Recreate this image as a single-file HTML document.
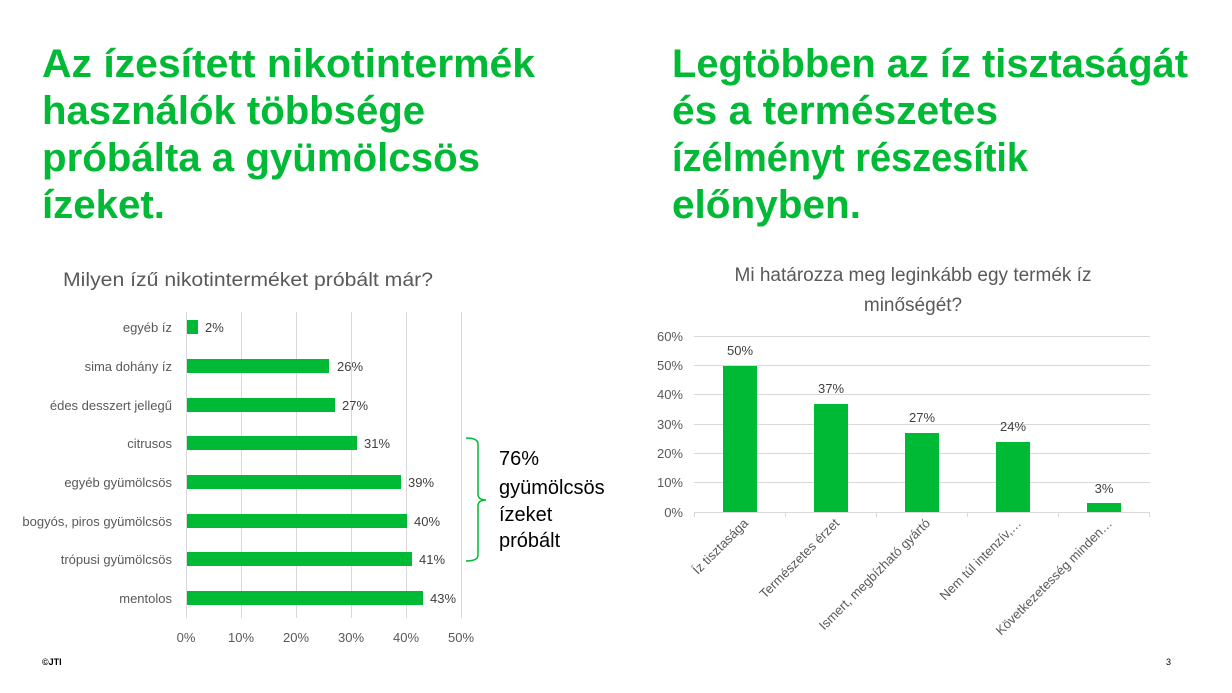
<!DOCTYPE html>
<html><head><meta charset="utf-8"><style>
html,body{margin:0;padding:0;background:#fff;}
svg{display:block;font-family:"Liberation Sans",sans-serif;}
</style></head><body>
<svg width="1232" height="693" viewBox="0 0 1232 693">
<g fill="#00b934" font-weight="bold" font-size="40">
<text x="42" y="77" textLength="493" lengthAdjust="spacingAndGlyphs">Az ízesített nikotintermék</text>
<text x="42" y="124" textLength="383" lengthAdjust="spacingAndGlyphs">használók többsége</text>
<text x="42" y="171" textLength="438" lengthAdjust="spacingAndGlyphs">próbálta a gyümölcsös</text>
<text x="42" y="218" textLength="123" lengthAdjust="spacingAndGlyphs">ízeket.</text>
<text x="672" y="77" textLength="516" lengthAdjust="spacingAndGlyphs">Legtöbben az íz tisztaságát</text>
<text x="672" y="124" textLength="326" lengthAdjust="spacingAndGlyphs">és a természetes</text>
<text x="672" y="171" textLength="356" lengthAdjust="spacingAndGlyphs">ízélményt részesítik</text>
<text x="672" y="218" textLength="189" lengthAdjust="spacingAndGlyphs">előnyben.</text>
</g>
<!-- left chart -->
<text x="63" y="286" font-size="19" fill="#595959" textLength="370" lengthAdjust="spacingAndGlyphs">Milyen ízű nikotinterméket próbált már?</text>
<g stroke="#d9d9d9" stroke-width="1">
<line x1="186.5" y1="312" x2="186.5" y2="618"/>
<line x1="241.5" y1="312" x2="241.5" y2="618"/>
<line x1="296.5" y1="312" x2="296.5" y2="618"/>
<line x1="351.5" y1="312" x2="351.5" y2="618"/>
<line x1="406.5" y1="312" x2="406.5" y2="618"/>
<line x1="461.5" y1="312" x2="461.5" y2="618"/>
</g>
<g fill="#00b934">
<rect x="187" y="320" width="11" height="14"/>
<rect x="187" y="359" width="142" height="14"/>
<rect x="187" y="398" width="148" height="14"/>
<rect x="187" y="436" width="170" height="14"/>
<rect x="187" y="475" width="214" height="14"/>
<rect x="187" y="514" width="220" height="14"/>
<rect x="187" y="552" width="225" height="14"/>
<rect x="187" y="591" width="236" height="14"/>
</g>
<g font-size="13" fill="#595959" text-anchor="end">
<text x="172" y="332">egyéb íz</text>
<text x="172" y="371">sima dohány íz</text>
<text x="172" y="410">édes desszert jellegű</text>
<text x="172" y="448">citrusos</text>
<text x="172" y="487">egyéb gyümölcsös</text>
<text x="172" y="526">bogyós, piros gyümölcsös</text>
<text x="172" y="564">trópusi gyümölcsös</text>
<text x="172" y="603">mentolos</text>
</g>
<g font-size="13" fill="#404040">
<text x="205" y="332">2%</text>
<text x="337" y="371">26%</text>
<text x="342" y="410">27%</text>
<text x="364" y="448">31%</text>
<text x="408" y="487">39%</text>
<text x="414" y="526">40%</text>
<text x="419" y="564">41%</text>
<text x="430" y="603">43%</text>
</g>
<g font-size="13" fill="#595959" text-anchor="middle">
<text x="186" y="642">0%</text>
<text x="241" y="642">10%</text>
<text x="296" y="642">20%</text>
<text x="351" y="642">30%</text>
<text x="406" y="642">40%</text>
<text x="461" y="642">50%</text>
</g>
<path d="M466 438 Q478 438 478 444 L478 494 Q478 500 486 500 Q478 500 478 506 L478 555 Q478 561 466 561" fill="none" stroke="#00b934" stroke-width="1.5"/>
<g font-size="20" fill="#000">
<text x="499" y="465">76%</text>
<text x="499" y="494">gyümölcsös</text>
<text x="499" y="521">ízeket</text>
<text x="499" y="547">próbált</text>
</g>
<!-- right chart -->
<g font-size="19" fill="#595959" text-anchor="middle">
<text x="913" y="281">Mi határozza meg leginkább egy termék íz</text>
<text x="913" y="311">minőségét?</text>
</g>
<g stroke="#d9d9d9" stroke-width="1">
<line x1="694" y1="336.5" x2="1150" y2="336.5"/>
<line x1="694" y1="365.5" x2="1150" y2="365.5"/>
<line x1="694" y1="394.5" x2="1150" y2="394.5"/>
<line x1="694" y1="424.5" x2="1150" y2="424.5"/>
<line x1="694" y1="453.5" x2="1150" y2="453.5"/>
<line x1="694" y1="482.5" x2="1150" y2="482.5"/>
<line x1="694" y1="512.5" x2="1150" y2="512.5"/>
<line x1="694.5" y1="512" x2="694.5" y2="517"/>
<line x1="785.5" y1="512" x2="785.5" y2="517"/>
<line x1="876.5" y1="512" x2="876.5" y2="517"/>
<line x1="967.5" y1="512" x2="967.5" y2="517"/>
<line x1="1058.5" y1="512" x2="1058.5" y2="517"/>
<line x1="1149.5" y1="512" x2="1149.5" y2="517"/>
</g>
<g font-size="13" fill="#595959" text-anchor="end">
<text x="683" y="341">60%</text>
<text x="683" y="370">50%</text>
<text x="683" y="399">40%</text>
<text x="683" y="429">30%</text>
<text x="683" y="458">20%</text>
<text x="683" y="487">10%</text>
<text x="683" y="517">0%</text>
</g>
<g fill="#00b934">
<rect x="723" y="366" width="34" height="146"/>
<rect x="814" y="404" width="34" height="108"/>
<rect x="905" y="433" width="34" height="79"/>
<rect x="996" y="442" width="34" height="70"/>
<rect x="1087" y="503" width="34" height="9"/>
</g>
<g font-size="13" fill="#404040" text-anchor="middle">
<text x="740" y="355">50%</text>
<text x="831" y="393">37%</text>
<text x="922" y="422">27%</text>
<text x="1013" y="431">24%</text>
<text x="1104" y="493">3%</text>
</g>
<g font-size="13" fill="#595959" text-anchor="end">
<text transform="translate(749,524) rotate(-45)">Íz tisztasága</text>
<text transform="translate(840,524) rotate(-45)">Természetes érzet</text>
<text transform="translate(931,524) rotate(-45)">Ismert, megbízható gyártó</text>
<text transform="translate(1022,524) rotate(-45)">Nem túl intenzív,…</text>
<text transform="translate(1113,524) rotate(-45)">Következetesség minden…</text>
</g>
<text x="42" y="665" font-size="9" font-weight="bold" fill="#000">©JTI</text>
<text x="1166" y="665" font-size="9" fill="#000">3</text>
</svg>
</body></html>
